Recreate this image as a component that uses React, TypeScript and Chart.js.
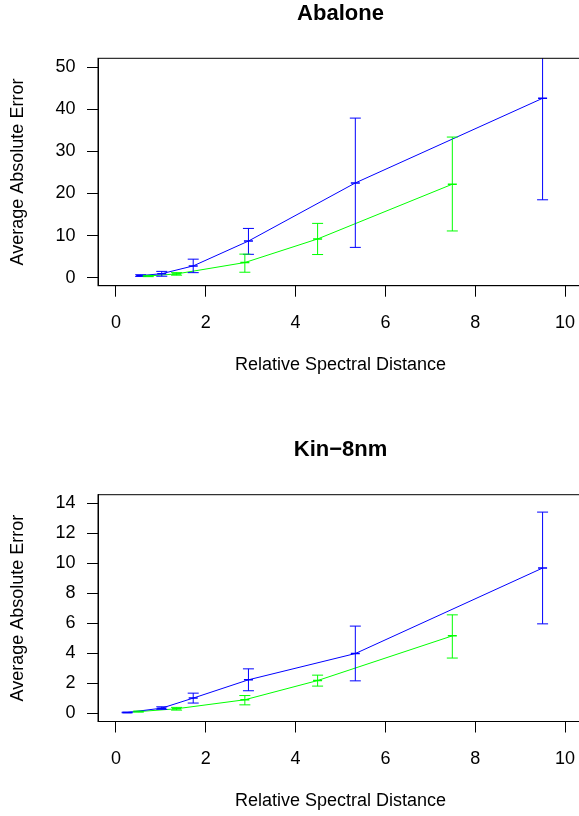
import React, { useEffect, useRef } from "react";
import { Chart, registerables } from "chart.js";
Chart.register(...registerables);

// ---- data ----
const xTickValues = [0, 2, 4, 6, 8, 10];
const xAxisLabel = "Relative Spectral Distance";
const yAxisLabel = "Average Absolute Error";

const abaloneTitle = "Abalone";
const abaloneYTicks = [0, 10, 20, 30, 40, 50];
const abaloneBlueX = [0.55, 1.02, 1.72, 2.95, 5.33, 9.5];
const abaloneBlueY = [0.5, 0.95, 2.8, 8.7, 22.5, 42.6];
const abaloneBlueLo = [0.3, 0.35, 1.2, 5.55, 7.2, 18.5];
const abaloneBlueHi = [0.7, 1.5, 4.4, 11.7, 37.9, 66.6];
const abaloneGreenX = [0.72, 1.35, 2.87, 4.49, 7.49];
const abaloneGreenY = [0.4, 0.9, 3.6, 9.2, 22.2];
const abaloneGreenLo = [0.25, 0.6, 1.3, 5.5, 11.1];
const abaloneGreenHi = [0.55, 1.2, 5.6, 12.9, 33.4];

const kinTitle = "Kin\u22128nm";
const kinYTicks = [0, 2, 4, 6, 8, 10, 12, 14];
const kinBlueX = [0.25, 1.02, 1.72, 2.95, 5.33, 9.5];
const kinBlueY = [0.04, 0.33, 1.0, 2.22, 3.97, 9.67];
const kinBlueLo = [0.02, 0.25, 0.67, 1.49, 2.15, 5.95];
const kinBlueHi = [0.06, 0.42, 1.33, 2.95, 5.8, 13.4];
const kinGreenX = [0.5, 1.35, 2.87, 4.49, 7.49];
const kinGreenY = [0.1, 0.29, 0.89, 2.17, 5.15];
const kinGreenLo = [0.07, 0.2, 0.55, 1.8, 3.67];
const kinGreenHi = [0.13, 0.38, 1.17, 2.53, 6.55];

const BLUE = "#0000FF";
const GREEN = "#00FF00";
const FONT = "'Liberation Sans', Arial, Helvetica, sans-serif";

const boxPlugin = {
  id: "box",
  afterDraw(chart: any) {
    const { ctx, chartArea: a } = chart;
    ctx.save();
    ctx.strokeStyle = "#000";
    ctx.lineWidth = 1;
    ctx.strokeRect(a.left, a.top, a.right - a.left, a.bottom - a.top);
    ctx.restore();
  },
};

const errorBarPlugin = {
  id: "errbars",
  afterDatasetsDraw(chart: any) {
    const { ctx, chartArea: a, scales } = chart;
    ctx.save();
    ctx.beginPath();
    ctx.rect(a.left, a.top, a.right - a.left, a.bottom - a.top);
    ctx.clip();
    chart.data.datasets.forEach((ds: any) => {
      ctx.strokeStyle = ds.borderColor;
      ctx.lineWidth = 1;
      ds.data.forEach((p: any, i: number) => {
        const px = scales.x.getPixelForValue(p.x);
        const lo = scales.y.getPixelForValue(ds.errLo[i]);
        const hi = scales.y.getPixelForValue(ds.errHi[i]);
        const w = 5.5;
        ctx.beginPath();
        ctx.moveTo(px, lo);
        ctx.lineTo(px, hi);
        ctx.moveTo(px - w, lo);
        ctx.lineTo(px + w, lo);
        ctx.moveTo(px - w, hi);
        ctx.lineTo(px + w, hi);
        ctx.stroke();
      });
    });
    ctx.restore();
  },
};

type Series = { x: number[]; y: number[]; lo: number[]; hi: number[]; color: string };
type PanelCfg = {
  title: string;
  yTicks: number[];
  yMin: number;
  yMax: number;
  series: Series[];
  titleTop: number;
  titleBottom: number;
  padBottom: number;
};

function Panel({ cfg, top }: { cfg: PanelCfg; top: number }) {
  const ref = useRef<HTMLCanvasElement>(null);
  useEffect(() => {
    const tickFont = { family: FONT, size: 18, lineHeight: 1.2 };
    const chart = new Chart(ref.current as HTMLCanvasElement, {
      type: "line",
      data: {
        datasets: cfg.series.map((s) => ({
          data: s.x.map((x, i) => ({ x, y: s.y[i] })),
          errLo: s.lo,
          errHi: s.hi,
          borderColor: s.color,
          backgroundColor: s.color,
          borderWidth: 1,
          pointStyle: "line",
          pointRadius: 4.5,
          pointBorderWidth: 1.5,
          pointBorderColor: s.color,
          tension: 0,
          fill: false,
        })) as any,
      },
      options: {
        animation: false,
        responsive: false,
        maintainAspectRatio: false,
        layout: { padding: { left: 0, right: 17, top: 0, bottom: cfg.padBottom } },
        plugins: {
          legend: { display: false },
          tooltip: { enabled: false },
          title: {
            display: true,
            text: cfg.title,
            fullSize: false,
            color: "#000",
            font: { family: FONT, size: 22, weight: "bold", lineHeight: 1.2 },
            padding: { top: cfg.titleTop, bottom: cfg.titleBottom },
          },
        },
        scales: {
          x: {
            type: "linear",
            min: -0.4,
            max: 10.4,
            afterBuildTicks: (s: any) => {
              s.ticks = xTickValues.map((v) => ({ value: v }));
            },
            afterFit: (s: any) => {
              s.height = 90;
            },
            grid: { drawOnChartArea: false, drawTicks: true, tickLength: 11, color: "#000", lineWidth: 1 },
            border: { display: true, color: "#000", width: 1 },
            ticks: {
              padding: 15.4,
              color: "#000",
              font: tickFont,
              maxRotation: 0,
              autoSkip: false,
              callback: (v: any) => String(v),
            },
            title: {
              display: true,
              text: xAxisLabel,
              color: "#000",
              font: tickFont,
              padding: { top: 0, bottom: 0 },
            },
          },
          y: {
            type: "linear",
            min: cfg.yMin,
            max: cfg.yMax,
            afterBuildTicks: (s: any) => {
              s.ticks = cfg.yTicks.map((v) => ({ value: v }));
            },
            afterFit: (s: any) => {
              s.width = 98;
            },
            grid: { drawOnChartArea: false, drawTicks: true, tickLength: 11, color: "#000", lineWidth: 1 },
            border: { display: true, color: "#000", width: 1 },
            ticks: {
              padding: 11.5,
              color: "#000",
              font: tickFont,
              autoSkip: false,
              callback: (v: any) => String(v),
            },
            title: {
              display: true,
              text: yAxisLabel,
              color: "#000",
              font: tickFont,
              padding: { top: 7.7, bottom: 0 },
            },
          },
        },
      } as any,
      plugins: [boxPlugin, errorBarPlugin],
    });
    return () => chart.destroy();
  }, []);
  return (
    <canvas
      ref={ref}
      width={600}
      height={408}
      style={{ position: "absolute", left: 0, top, width: 600, height: 408, display: "block" }}
    />
  );
}

const abaloneCfg: PanelCfg = {
  title: abaloneTitle,
  yTicks: abaloneYTicks,
  yMin: -1.9,
  yMax: 52.1,
  series: [
    { x: abaloneBlueX, y: abaloneBlueY, lo: abaloneBlueLo, hi: abaloneBlueHi, color: BLUE },
    { x: abaloneGreenX, y: abaloneGreenY, lo: abaloneGreenLo, hi: abaloneGreenHi, color: GREEN },
  ],
  titleTop: 0.6,
  titleBottom: 31.3,
  padBottom: 32.3,
};

const kinCfg: PanelCfg = {
  title: kinTitle,
  yTicks: kinYTicks,
  yMin: -0.56,
  yMax: 14.56,
  series: [
    { x: kinBlueX, y: kinBlueY, lo: kinBlueLo, hi: kinBlueHi, color: BLUE },
    { x: kinGreenX, y: kinGreenY, lo: kinGreenLo, hi: kinGreenHi, color: GREEN },
  ],
  titleTop: 29.2,
  titleBottom: 31.1,
  padBottom: 4.5,
};

export default function App() {
  return (
    <div
      style={{
        position: "absolute",
        left: 0,
        top: 0,
        width: 579,
        height: 816,
        overflow: "hidden",
        background: "#fff",
      }}
    >
      <Panel cfg={abaloneCfg} top={0} />
      <Panel cfg={kinCfg} top={408} />
    </div>
  );
}
